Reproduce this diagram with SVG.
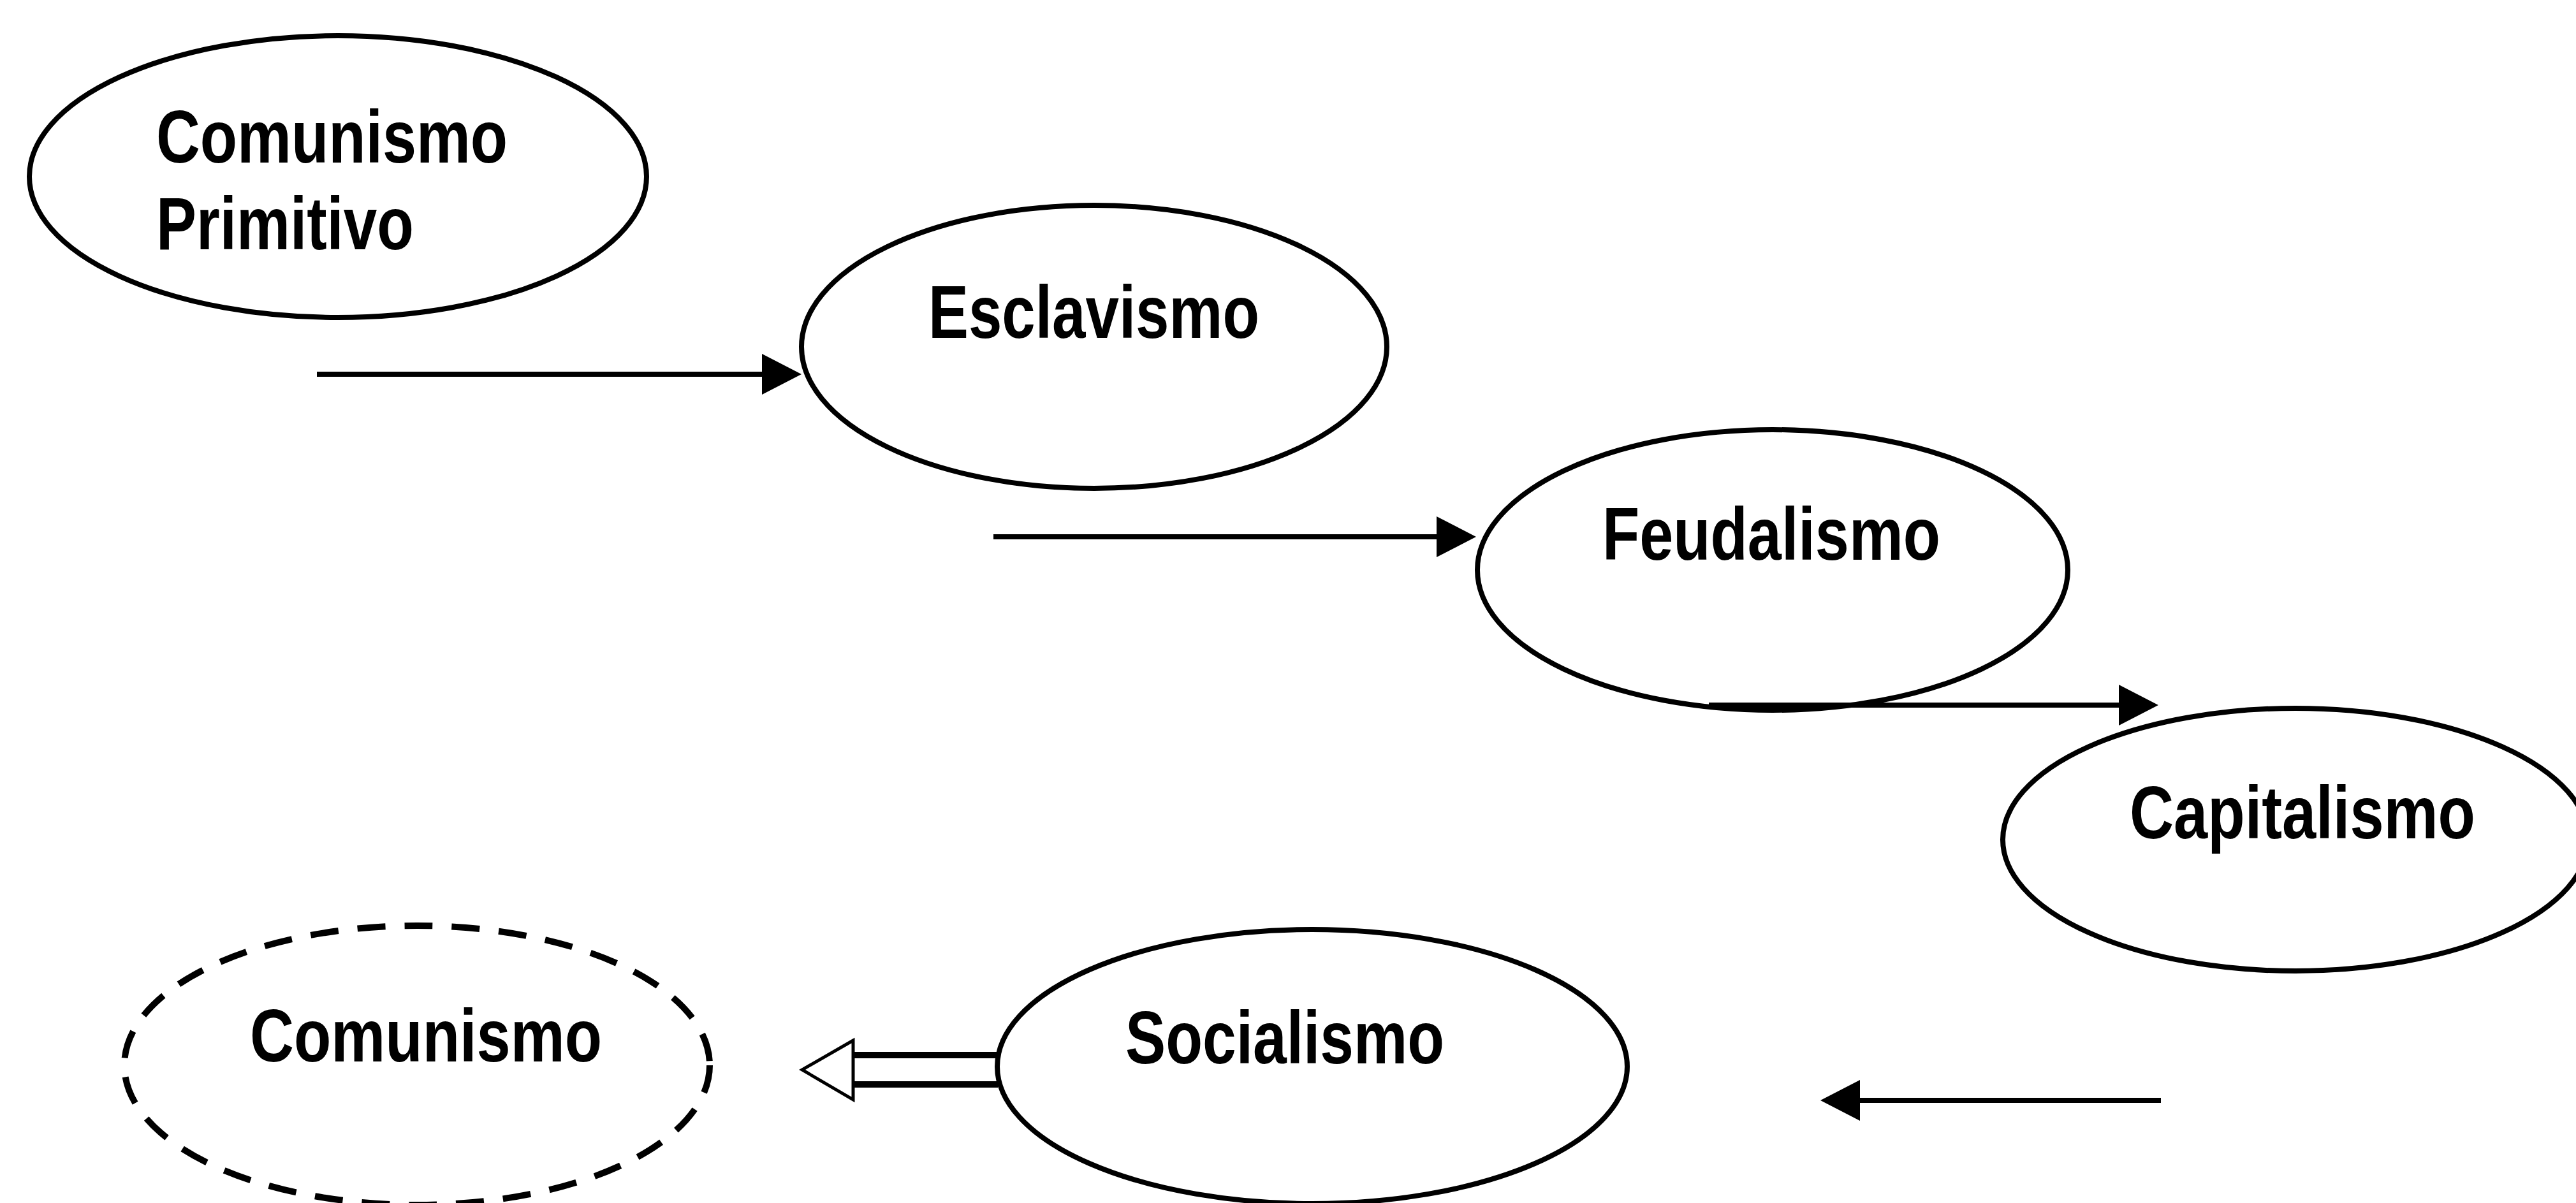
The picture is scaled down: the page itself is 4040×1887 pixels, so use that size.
<svg xmlns="http://www.w3.org/2000/svg" width="4040" height="1887" viewBox="0 0 4040 1887">
<style>
.bg{fill:#ffffff}
.node{fill:none;stroke:#000;stroke-width:8}
.dash{fill:none;stroke:#000;stroke-width:10;stroke-dasharray:44 30}
.lbl{font-family:"Liberation Sans",Arial,sans-serif;font-weight:bold;font-size:117px;fill:#000}
.conn{stroke:#000;stroke-width:8;fill:none}
.hollow{fill:#fff;stroke:#000;stroke-width:5;stroke-linejoin:miter}
.shaft{stroke:#000;stroke-width:10;fill:none}
</style>
<defs>
<marker id="ah" markerUnits="userSpaceOnUse" markerWidth="64" markerHeight="66" refX="8" refY="32" orient="auto" viewBox="0 0 64 64">
<path d="M0,0 L62,32 L0,64 z" fill="#000"/>
</marker>
</defs>
<rect class="bg" x="0" y="0" width="4040" height="1887"/>
<g id="connectors">
<line class="conn" x1="497" y1="587" x2="1203" y2="587" marker-end="url(#ah)"/>
<line class="conn" x1="1558" y1="842" x2="2261" y2="842" marker-end="url(#ah)"/>
<line class="conn" x1="2680" y1="1106" x2="3331" y2="1106" marker-end="url(#ah)"/>
<line class="conn" x1="3389" y1="1726" x2="2909" y2="1726" marker-end="url(#ah)"/>
<g id="hollow-arrow">
<path class="hollow" d="M1338,1632 L1258,1678 L1338,1725 z"/>
<line class="shaft" x1="1336" y1="1655" x2="1565" y2="1655"/>
<line class="shaft" x1="1336" y1="1701" x2="1565" y2="1701"/>
</g>
</g>
<g id="n-comunismo-primitivo">
<ellipse class="node" cx="530" cy="277" rx="484" ry="221"/>
<text class="lbl" x="245" y="255" textLength="551" lengthAdjust="spacingAndGlyphs">Comunismo</text>
<text class="lbl" x="245" y="391" textLength="404" lengthAdjust="spacingAndGlyphs">Primitivo</text>
</g>
<g id="n-esclavismo">
<ellipse class="node" cx="1716" cy="544" rx="459" ry="222"/>
<text class="lbl" x="1456" y="530" textLength="519" lengthAdjust="spacingAndGlyphs">Esclavismo</text>
</g>
<g id="n-feudalismo">
<ellipse class="node" cx="2780" cy="894" rx="463" ry="220"/>
<text class="lbl" x="2513" y="878" textLength="530" lengthAdjust="spacingAndGlyphs">Feudalismo</text>
</g>
<g id="n-capitalismo">
<ellipse class="node" cx="3600" cy="1317" rx="459" ry="206"/>
<text class="lbl" x="3340" y="1315" textLength="542" lengthAdjust="spacingAndGlyphs">Capitalismo</text>
</g>
<g id="n-socialismo">
<ellipse class="node" cx="2058" cy="1673" rx="494" ry="215"/>
<text class="lbl" x="1765" y="1668" textLength="500" lengthAdjust="spacingAndGlyphs">Socialismo</text>
</g>
<g id="n-comunismo">
<ellipse class="dash" cx="654" cy="1671" rx="459" ry="219"/>
<text class="lbl" x="392" y="1665" textLength="552" lengthAdjust="spacingAndGlyphs">Comunismo</text>
</g>
</svg>
